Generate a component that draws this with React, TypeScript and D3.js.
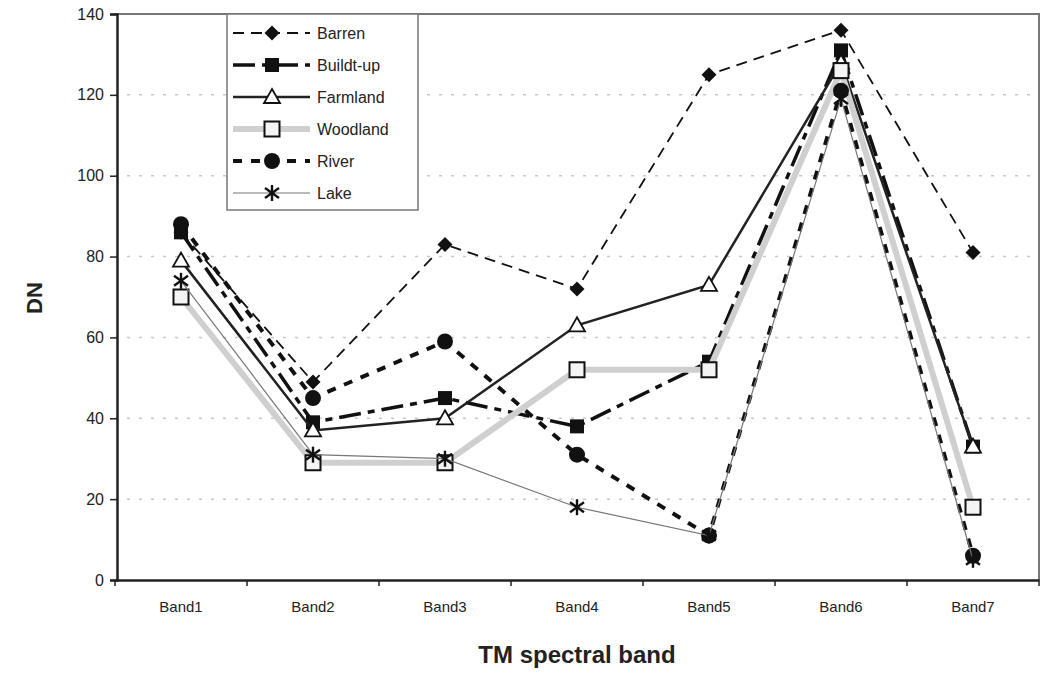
import { useEffect, useRef } from "react";
import * as d3 from "d3";

const bands = ["Band1", "Band2", "Band3", "Band4", "Band5", "Band6", "Band7"];
const yTicks = [0, 20, 40, 60, 80, 100, 120, 140];

const barren = [86, 49, 83, 72, 125, 136, 81];
const builtUp = [86, 39, 45, 38, 54, 131, 33];
const farmland = [79, 37, 40, 63, 73, 128, 33];
const woodland = [70, 29, 29, 52, 52, 126, 18];
const river = [88, 45, 59, 31, 11, 121, 6];
const lake = [74, 31, 30, 18, 11, 119, 5];

const series = [
  { name: "Barren", values: barren, stroke: "#111", width: 1.8, dash: "11,7", marker: "diamond" },
  { name: "Buildt-up", values: builtUp, stroke: "#111", width: 3.5, dash: "22,7,7,7", marker: "squareFilled" },
  { name: "Farmland", values: farmland, stroke: "#222", width: 2.5, dash: null, marker: "triangle" },
  { name: "Woodland", values: woodland, stroke: "#cfcfcf", width: 6, dash: null, marker: "squareOpen" },
  { name: "River", values: river, stroke: "#111", width: 4, dash: "9,9", marker: "circle" },
  { name: "Lake", values: lake, stroke: "#777", width: 1.2, dash: null, marker: "star" },
];

const W = 1045;
const H = 675;
const left = 115;
const right = 1039;
const top = 14;
const bottom = 580;
const font = "'Liberation Sans', Arial, sans-serif";

function Marker({ type, x, y }: { type: string; x: number; y: number }) {
  const t = `translate(${x},${y})`;
  if (type === "diamond")
    return <path transform={t} d="M0,-7.5L7.5,0L0,7.5L-7.5,0Z" fill="#111" />;
  if (type === "squareFilled")
    return <rect x={x - 7} y={y - 7} width={14} height={14} fill="#111" />;
  if (type === "triangle")
    return <path transform={t} d="M0,-8L8,6L-8,6Z" fill="#fff" stroke="#111" strokeWidth={1.8} />;
  if (type === "squareOpen")
    return <rect x={x - 7.5} y={y - 7.5} width={15} height={15} fill="#f4f4f4" stroke="#111" strokeWidth={2} />;
  if (type === "circle") return <circle cx={x} cy={y} r={8} fill="#111" />;
  // asterisk
  return (
    <g transform={t} stroke="#111" strokeWidth={2.4}>
      <line x1={0} y1={-8} x2={0} y2={8} />
      <line x1={-7} y1={-5} x2={7} y2={5} />
      <line x1={-7} y1={5} x2={7} y2={-5} />
    </g>
  );
}

export default function App() {
  const xAxisRef = useRef<SVGGElement>(null);
  const yAxisRef = useRef<SVGGElement>(null);

  const x = d3.scaleBand().domain(bands).range([left, right]);
  const y = d3.scaleLinear().domain([0, 140]).range([bottom, top]);
  const cx = (b: string) => x(b)! + x.bandwidth() / 2;

  useEffect(() => {
    const ya = d3.select(yAxisRef.current!);
    ya.call(d3.axisLeft(y).tickValues(yTicks).tickSize(7).tickPadding(6));
    ya.select(".domain").attr("stroke", "#222").attr("stroke-width", 2.5);
    ya.selectAll(".tick line").attr("stroke", "#222").attr("stroke-width", 1.5);
    ya.selectAll(".tick text")
      .attr("font-family", font)
      .attr("font-size", 16)
      .attr("fill", "#222");

    const xa = d3.select(xAxisRef.current!);
    xa.call(d3.axisBottom(x).tickSize(0).tickPadding(21));
    xa.select(".domain").attr("stroke", "#222").attr("stroke-width", 2.5);
    xa.selectAll(".tick text")
      .attr("font-family", font)
      .attr("font-size", 15)
      .attr("fill", "#222");
  }, []);

  const line = d3
    .line<number>()
    .x((_, i) => cx(bands[i]))
    .y((v) => y(v));

  const legendRows = series.map((s, i) => ({ ...s, ly: 33 + i * 32 }));

  return (
    <svg width={W} height={H} style={{ position: "absolute", left: 0, top: 0, background: "#fff" }}>
      {/* gridlines */}
      {yTicks.slice(1, -1).map((t) => (
        <line
          key={t}
          x1={left}
          x2={right}
          y1={y(t)}
          y2={y(t)}
          stroke="#c8c8c8"
          strokeWidth={1.5}
          strokeDasharray="3,9"
        />
      ))}
      {/* plot frame */}
      <path
        d={`M${left},${top}H${right}V${bottom}`}
        fill="none"
        stroke="#777"
        strokeWidth={2}
      />
      {/* x ticks at band boundaries */}
      {bands.map((b) => (
        <line key={b} x1={x(b)!} x2={x(b)!} y1={bottom} y2={bottom + 6} stroke="#222" strokeWidth={1.5} />
      ))}
      <line x1={right} x2={right} y1={bottom} y2={bottom + 6} stroke="#222" strokeWidth={1.5} />

      {series.map((s) => (
        <g key={s.name}>
          <path
            d={line(s.values)!}
            fill="none"
            stroke={s.stroke}
            strokeWidth={s.width}
            strokeDasharray={s.dash ?? undefined}
          />
          {s.values.map((v, i) => (
            <Marker key={i} type={s.marker} x={cx(bands[i])} y={y(v)} />
          ))}
        </g>
      ))}

      <g ref={yAxisRef} transform={`translate(${left + 2},0)`} />
      <g ref={xAxisRef} transform={`translate(0,${bottom})`} />

      {/* legend */}
      <rect x={227} y={top} width={191} height={196} fill="#fff" stroke="#777" strokeWidth={1.5} />
      {legendRows.map((s) => (
        <g key={s.name}>
          <line
            x1={233}
            x2={310}
            y1={s.ly}
            y2={s.ly}
            stroke={s.stroke}
            strokeWidth={s.width}
            strokeDasharray={s.dash ?? undefined}
          />
          <Marker type={s.marker} x={272} y={s.ly} />
          <text x={317} y={s.ly + 6} fontFamily={font} fontSize={16} fill="#222">
            {s.name}
          </text>
        </g>
      ))}

      <text
        transform={`translate(42,298) rotate(-90)`}
        textAnchor="middle"
        fontFamily={font}
        fontWeight="bold"
        fontSize={22}
        fill="#222"
      >
        DN
      </text>
      <text x={577} y={663} textAnchor="middle" fontFamily={font} fontWeight="bold" fontSize={24} fill="#222">
        TM spectral band
      </text>
    </svg>
  );
}
